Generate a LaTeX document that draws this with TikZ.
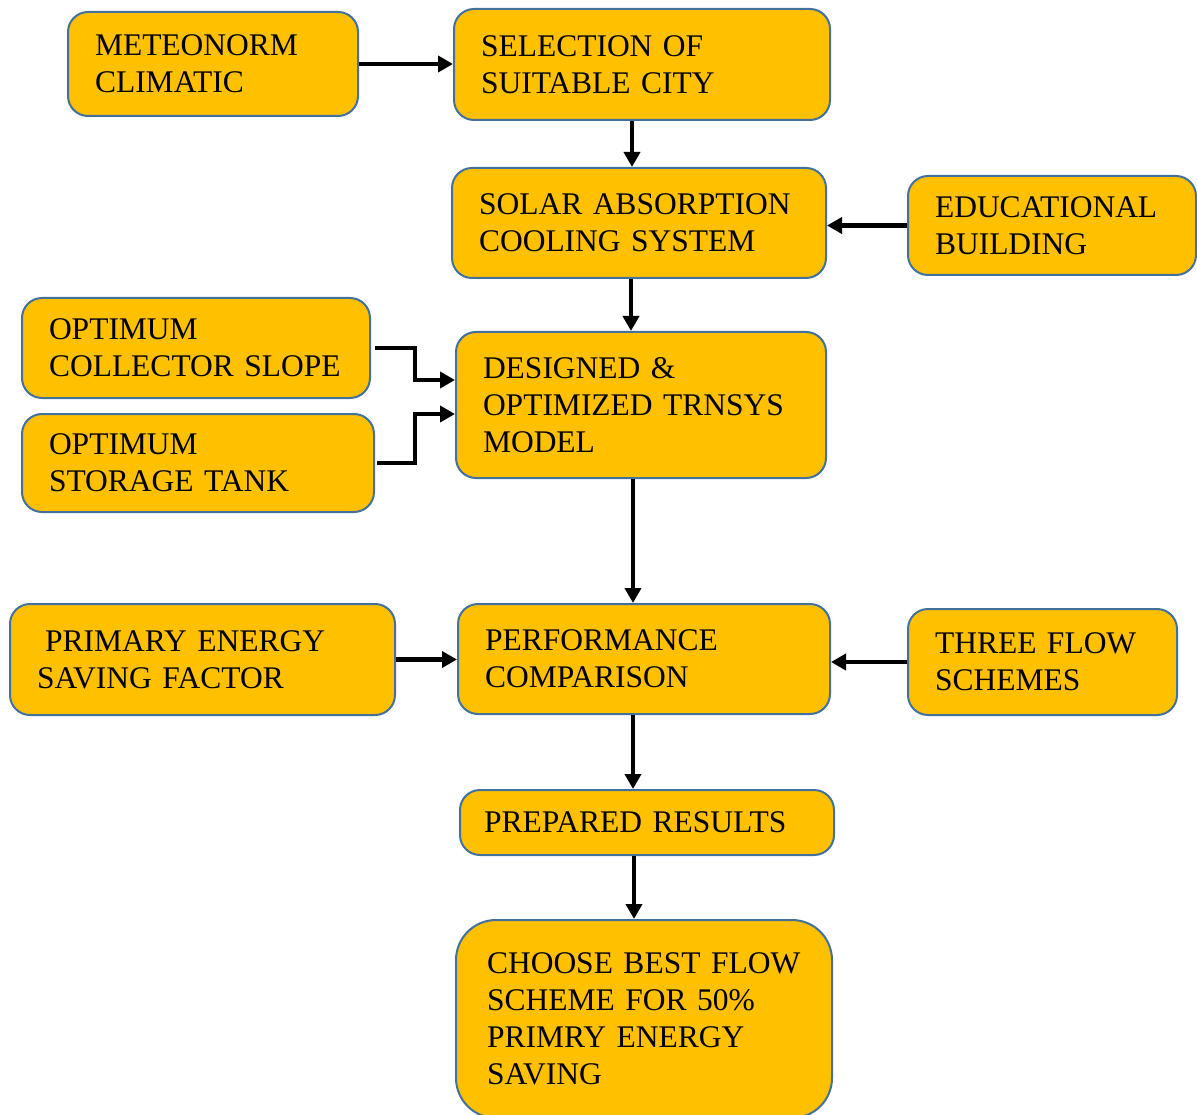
\documentclass[tikz,border=0pt]{standalone}
\usepackage{fontspec}
\setmainfont{Liberation Serif}
\usetikzlibrary{arrows.meta}
\definecolor{boxfill}{HTML}{FFC000}
\definecolor{boxline}{HTML}{41719C}
\begin{document}
\begin{tikzpicture}[x=1pt,y=-1pt,
  blk/.style={draw=boxline, fill=boxfill, line width=2pt, rounded corners=20pt,
    inner xsep=27pt, inner ysep=4pt, align=left,
    font=\fontsize{31.5}{37}\selectfont},
  arr/.style={line width=4.5pt, -{Triangle[length=15pt,width=16pt]}}]
\useasboundingbox (0,0) rectangle (1197,1115);

% process blocks
\node[blk, text width=236pt, minimum height=104pt] (met) at (213,64)
  {METEONORM\\CLIMATIC};
\node[blk, text width=322pt, minimum height=111pt] (sel) at (642,64.5)
  {SELECTION OF\\SUITABLE CITY};
\node[blk, text width=320pt, minimum height=110pt] (sol) at (639,223)
  {SOLAR ABSORPTION\\COOLING SYSTEM};
\node[blk, text width=234pt, minimum height=99pt] (edu) at (1052,225.5)
  {EDUCATIONAL\\BUILDING};
\node[blk, text width=294pt, minimum height=100pt] (col) at (196,348)
  {OPTIMUM\\COLLECTOR SLOPE};
\node[blk, text width=298pt, minimum height=98pt] (sto) at (198,463)
  {OPTIMUM\\STORAGE TANK};
\node[blk, text width=316pt, minimum height=146pt] (des) at (641,405)
  {DESIGNED \&\\OPTIMIZED TRNSYS\\MODEL};
\node[blk, text width=331pt, minimum height=111pt] (pri) at (202.5,659.5)
  {\hspace*{8pt}PRIMARY ENERGY\\SAVING FACTOR};
\node[blk, text width=318pt, minimum height=110pt] (per) at (644,659)
  {PERFORMANCE\\COMPARISON};
\node[blk, text width=215pt, minimum height=106pt] (thr) at (1042.5,662)
  {THREE FLOW\\SCHEMES};
\node[blk, inner xsep=24pt, text width=326pt, minimum height=65pt] (pre) at (647,822.5)
  {PREPARED RESULTS};
\node[blk, rounded corners=40pt, inner xsep=31pt, text width=314pt, minimum height=198pt] (cho) at (644,1019)
  {CHOOSE BEST FLOW\\SCHEME FOR 50\%\\PRIMRY ENERGY\\SAVING};

% connectors
\draw[arr] (met.east) -- (met.east -| sel.west);
\draw[arr] ([xshift=-10pt]sel.south) -- ([xshift=-10pt]sel.south |- sol.north);
\draw[arr] (edu.west) -- (edu.west -| sol.east);
\draw[arr] ([xshift=-8pt]sol.south) -- ([xshift=-8pt]sol.south |- des.north);
\draw[arr] ([xshift=4pt]col.east) -- ++(40,0) |- ([yshift=25pt]des.west);
\draw[arr] ([xshift=2pt]sto.east) -- ++(38,0) |- ([yshift=-9pt]des.west);
\draw[arr] ([xshift=-8pt]des.south) -- ([xshift=-8pt]des.south |- per.north);
\draw[arr] (pri.east) -- (pri.east -| per.west);
\draw[arr] (thr.west) -- (thr.west -| per.east);
\draw[arr] ([xshift=-11pt]per.south) -- ([xshift=-11pt]per.south |- pre.north);
\draw[arr] ([xshift=-13pt]pre.south) -- ([xshift=-13pt]pre.south |- cho.north);
\end{tikzpicture}
\end{document}
